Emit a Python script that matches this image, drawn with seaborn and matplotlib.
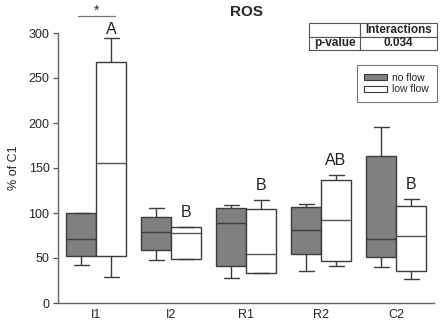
import numpy as np
import pandas as pd
import seaborn as sns
import matplotlib.pyplot as plt
from matplotlib.patches import Patch

# five-number summaries: min, Q1, median, Q3, max
groups = ['I1', 'I2', 'R1', 'R2', 'C2']
conditions = ['no flow', 'low flow']
no_flow = [
  [42.2, 52.6, 71.5, 99.6, 100.4],
  [47.8, 58.5, 79.3, 95.2, 105.9],
  [28.1, 41.1, 88.5, 105.6, 108.9],
  [35.9, 54.8, 80.7, 106.7, 110.4],
  [40.4, 51.1, 70.7, 163.3, 195.9],
]
low_flow = [
  [29.3, 52.6, 155.2, 268.1, 294.4],
  [49.3, 49.3, 78.1, 84.4, 84.4],
  [33.0, 33.0, 54.1, 104.4, 114.8],
  [41.5, 46.7, 91.9, 136.7, 142.2],
  [26.3, 35.6, 74.4, 108.1, 115.6],
]
letters = ['A', 'B', 'B', 'AB', 'B']
p_value = '0.034'

rows = []
for g, nf, lf in zip(groups, no_flow, low_flow):
  for v in nf:
    rows.append({'group': g, 'condition': 'no flow', 'value': v})
  for v in lf:
    rows.append({'group': g, 'condition': 'low flow', 'value': v})
df = pd.DataFrame(rows)

sns.set_style('white')
plt.rcParams['font.family'] = ['Liberation Sans', 'DejaVu Sans']

fig = plt.figure(figsize=(4.46, 3.25), dpi=100)
ax = fig.add_axes([58.5 / 446, 1 - 303 / 325, 375 / 446, 270 / 325])

colors = {'no flow': '#808080', 'low flow': 'white'}
edge = '#3c3c3c'
sns.boxplot(data=df, x='group', y='value', hue='condition', order=groups,
            hue_order=conditions, palette=colors, saturation=1, width=0.8,
            gap=0, whis=(0, 100), linecolor=edge, linewidth=1, fliersize=0,
            legend=False, ax=ax)

# medians inside the white boxes are drawn lighter
for line in ax.lines:
  xd = np.asarray(line.get_xdata(), dtype=float)
  yd = np.asarray(line.get_ydata(), dtype=float)
  if len(xd) == 2 and yd[0] == yd[1] and (xd[1] - xd[0]) > 0.35:
    center = (xd[0] + xd[1]) / 2
    if (center - round(center)) > 0:
      line.set_color('#555')

ax.set_ylim(0, 300)
ax.set_xlim(-0.5, 4.5)
ax.set_yticks([0, 50, 100, 150, 200, 250, 300])
ax.set_xlabel('')
ax.set_ylabel('% of C1', fontsize=9, labelpad=6)
ax.tick_params(axis='y', length=3.5, width=0.9, color='#555', labelsize=9, pad=3, left=True)
ax.tick_params(axis='x', length=0, labelsize=9, pad=4)
for s in ['top', 'right']:
  ax.spines[s].set_visible(False)
for s in ['left', 'bottom']:
  ax.spines[s].set_color('#666')
  ax.spines[s].set_linewidth(1.0)

# letters over the low flow boxes
for i, (lab, lf) in enumerate(zip(letters, low_flow)):
  y = min(lf[4] + 16, 304)
  ax.text(i + 0.2, y, lab, ha='center', va='center', fontsize=11.5,
          color='#222', clip_on=False)

# significance bar on I1
ax.plot([-0.236, 0.257], [319, 319], color='#777', lw=0.9, clip_on=False)
ax.text(0.01, 325, '*', ha='center', va='center', fontsize=10, clip_on=False)

fig.text(246 / 446, 1 - 12 / 325, 'ROS', ha='center', va='center',
         fontsize=11, fontweight='bold')

# small stats table
tax = fig.add_axes([309 / 446, 1 - 50 / 325, 128 / 446, 27 / 325])
tax.axis('off')
tbl = tax.table(cellText=[['', 'Interactions'], ['p-value', p_value]],
                colWidths=[51 / 128, 77 / 128], bbox=[0, 0, 1, 1], cellLoc='center')
tbl.auto_set_font_size(False)
for (r, c), cell in tbl.get_celld().items():
  cell.set_edgecolor('#555')
  cell.set_linewidth(0.8)
  cell.PAD = 0.02
  cell.get_text().set_fontsize(8.5)
  cell.get_text().set_fontweight('bold')

# legend
handles = [Patch(facecolor=colors[c], edgecolor=edge, linewidth=0.8, label=c) for c in conditions]
fig.legend(handles=handles, loc='upper right', bbox_to_anchor=(437 / 446, 1 - 65 / 325),
           prop={'size': 7.5}, frameon=True, fancybox=False, edgecolor='#555',
           handlelength=2.2, handleheight=0.5, handletextpad=0.5, labelspacing=0.15,
           borderpad=0.75, borderaxespad=0)
fig.legends[0].get_frame().set_linewidth(0.8)

fig.savefig('out.png', dpi=100)
